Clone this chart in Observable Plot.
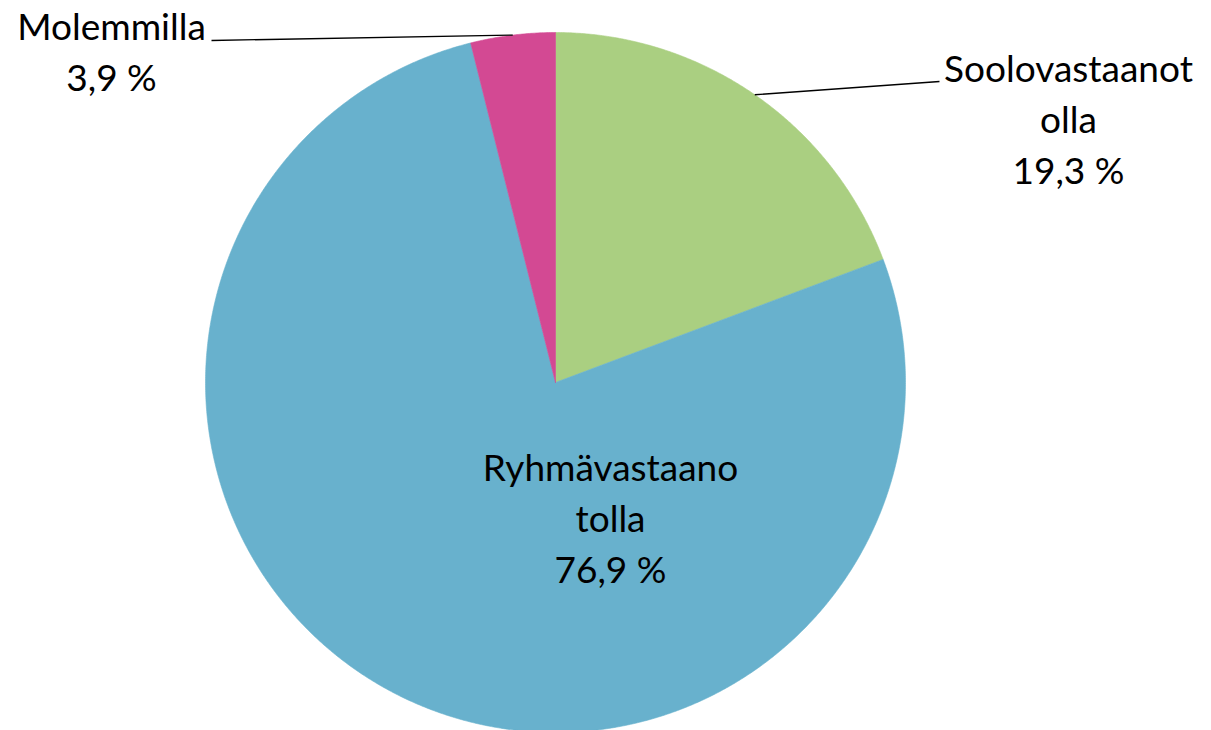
<!DOCTYPE html>
<html><head><meta charset="utf-8">
<script src="https://cdn.jsdelivr.net/npm/d3@7"></script>
<script src="https://cdn.jsdelivr.net/npm/@observablehq/plot@0.6"></script>
<style>
html,body{margin:0;padding:0;background:#fff;}
#chart svg{display:block;}
</style>
</head><body><div id="chart"></div>
<script>
// Data
const categories = ["Soolovastaanotolla", "Ryhmävastaanotolla", "Molemmilla"];
const labelLines = ["Soolovastaanot\nolla", "Ryhmävastaano\ntolla", "Molemmilla"];
const shares = [19.3, 76.9, 3.9];
const colors = ["#AACF81", "#68B1CD", "#D34993"];

// Layout (pixels), kept apart from data
const W = 1211, H = 730;
const cx = 555, cy = 382, r = 350;
const labelPos = [ // x centre, y = baseline of last line
  {x: 1068, y: 183, leaderEnd: [939, 81]},
  {x: 610, y: 582, leaderEnd: null},
  {x: 111, y: 90, leaderEnd: [211, 40]}
];
const toUx = px => (px - cx) / r;
const toUy = py => (cy - py) / r;

const fmt = v => v.toFixed(1).replace(".", ",") + " %";

const arcs = d3.pie().sort(null).value(d => d.share)(
  categories.map((c, i) => ({category: c, share: shares[i], i}))
);

const polyPts = [];
for (const a of arcs) {
  const n = Math.max(2, Math.ceil((a.endAngle - a.startAngle) / 0.005));
  polyPts.push({cat: a.data.category, x: 0, y: 0});
  for (let k = 0; k <= n; k++) {
    const t = a.startAngle + (a.endAngle - a.startAngle) * k / n;
    polyPts.push({cat: a.data.category, x: Math.sin(t), y: Math.cos(t)});
  }
  polyPts.push({cat: a.data.category, x: 0, y: 0});
}

const labels = arcs.map(a => {
  const i = a.data.i;
  return {cat: a.data.category, x: toUx(labelPos[i].x), y: toUy(labelPos[i].y),
          text: labelLines[i] + "\n" + fmt(a.data.share)};
});

const leaders = arcs.filter(a => labelPos[a.data.i].leaderEnd).map(a => {
  const m = (a.startAngle + a.endAngle) / 2;
  const e = labelPos[a.data.i].leaderEnd;
  return {x1: Math.sin(m), y1: Math.cos(m), x2: toUx(e[0]), y2: toUy(e[1])};
});

const chart = Plot.plot({
  width: W, height: H,
  margin: 0,
  style: {background: "#fff", fontFamily: "Lato, 'Open Sans', sans-serif"},
  x: {domain: [toUx(0), toUx(W)], range: [0, W], axis: null},
  y: {domain: [toUy(H), toUy(0)], range: [H, 0], axis: null},
  color: {domain: categories, range: colors},
  marks: [
    Plot.line(polyPts, {x: "x", y: "y", z: "cat", fill: "cat", stroke: "cat", strokeWidth: 0.6, curve: "linear"}),
    Plot.link(leaders, {x1: "x1", y1: "y1", x2: "x2", y2: "y2", stroke: "#000", strokeWidth: 1.3}),
    Plot.text(labels, {x: "x", y: "y", text: "text", textAnchor: "middle", lineAnchor: "bottom",
      lineHeight: 51 / 37, fontSize: 37, fill: "#000"})
  ]
});
document.getElementById("chart").appendChild(chart);
</script>
</body></html>
